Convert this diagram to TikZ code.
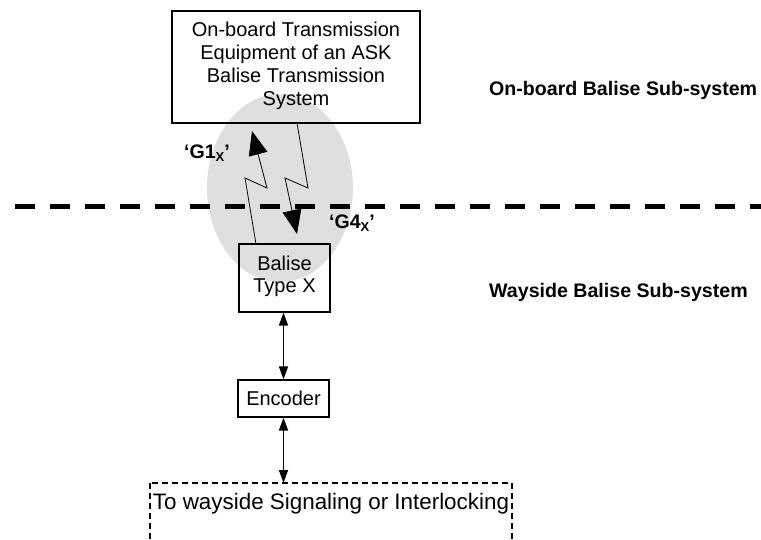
\documentclass[tikz,border=0pt]{standalone}
\usepackage{fontspec}
\setmainfont{Liberation Sans}
\usetikzlibrary{arrows.meta}
\tikzset{
  box/.style={draw,line width=1.2pt,align=center,inner sep=0pt,font=\fontsize{20}{23}\selectfont},
  lbl/.style={font=\bfseries\fontsize{19.6}{23}\selectfont,inner sep=0pt},
  zig/.style={line width=0.8pt,-{Triangle[length=24pt,width=19pt]}},
  link/.style={line width=1.6pt,{Triangle[length=13pt,width=9pt]}-{Triangle[length=13pt,width=9pt]}},
}
\begin{document}
\begin{tikzpicture}[x=1pt,y=-1pt]
\useasboundingbox (0,0) rectangle (761,540);
\clip (0,0) rectangle (761,540);
% shaded ellipse
\fill[gray!25] (280,188) ellipse [x radius=73, y radius=94];
% boundary line
\draw[line width=5pt,dash pattern=on 20pt off 15pt] (15,207) -- (761,207);
% boxes
\node[box,minimum width=248pt,minimum height=112pt] (obe) at (296,67) {};
\node[font=\fontsize{20}{23}\selectfont,align=center,inner sep=0pt] (obet) at (296,66)
  {On-board Transmission\\Equipment of an ASK\\Balise Transmission\\System};
\node[box,minimum width=91pt,minimum height=68pt] (bal) at (284.5,278) {};
\node[font=\fontsize{20}{22}\selectfont,align=center,inner sep=0pt] (balt) at (284.5,276) {Balise\\Type X};
\node[box,minimum width=91pt,minimum height=37pt] (enc) at (283.5,398.5) {Encoder};
\draw[line width=1.2pt,dash pattern=on 6pt off 4pt] (150,483) rectangle (512,570);
\node[font=\fontsize{22.4}{26}\selectfont,inner sep=0pt] (sig) at (331,504) {To wayside Signaling or Interlocking};
\coordinate (sigtop) at (283.5,483);
% zigzag links
\coordinate (g1a) at (256,244);
\coordinate (g1b) at (245,178);
\coordinate (g1c) at (267,188);
\coordinate (g1d) at (252,131);
\draw[zig] (g1a) -- (g1b) -- (g1c) -- (g1d);
\coordinate (g4a) at (297,123);
\coordinate (g4b) at (308,188);
\coordinate (g4c) at (285,178);
\coordinate (g4d) at (297,234);
\draw[zig] (g4a) -- (g4b) -- (g4c) -- (g4d);
% vertical links
\draw[link] (bal.south -| enc.north) -- (enc.north);
\draw[link] (enc.south) -- (sigtop);
% labels
\node[lbl] (g1) at (207,153) {‘G1\raisebox{-0.35ex}{\fontsize{13}{13}\selectfont X}’};
\node[lbl] (g4) at (352,223) {‘G4\raisebox{-0.35ex}{\fontsize{13}{13}\selectfont X}’};
\node[lbl,anchor=west] (onb) at (489,90) {On-board Balise Sub-system};
\node[lbl,anchor=west] (way) at (489,292) {Wayside Balise Sub-system};
\end{tikzpicture}
\end{document}
